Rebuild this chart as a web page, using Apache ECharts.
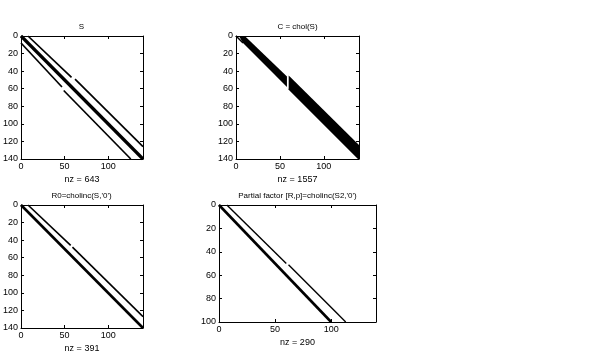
<!DOCTYPE html>
<html>
<head>
<meta charset="utf-8">
<script src="https://cdn.jsdelivr.net/npm/echarts@6/dist/echarts.min.js"></script>
<style>
  html, body { margin: 0; padding: 0; background: #fff; }
  #chart { width: 600px; height: 354px; }
</style>
</head>
<body>
<div id="chart"></div>
<script>
// sparsity patterns, as [col, row] segment end points
const sDiag = [[0, 0], [140, 140]]
const sUpperA = [[8, 0], [58, 47]]
const sUpperB = [[62, 49], [140, 126]]
const sLowerA = [[0, 8], [47, 58]]
const sLowerB = [[49, 62], [126, 140]]

const cLead = [[0, 0], [8, 8]]
const cBandA = [[4, 0], [10, 0], [58, 46], [58, 58], [8, 8], [4, 1]]
const cBandB = [[60, 45], [140, 124], [140, 140], [60, 60]]

const rDiag = [[0, 0], [140, 140]]
const rUpperA = [[8, 0], [57, 46]]
const rUpperB = [[59, 48], [140, 127]]

const pDiag = [[0, 0], [100, 100]]
const pUpperA = [[7, 0], [60, 50]]
const pUpperB = [[62, 51], [113, 100]]

const titles = ['S', 'C = chol(S)', "R0=cholinc(S,'0')", "Partial factor [R,p]=cholinc(S2,'0')"]
const nzLabels = ['nz = 643', 'nz = 1557', 'nz = 391', 'nz = 290']
const colMax = [140, 140, 140, 140]
const rowMax = [140, 140, 140, 100]

const panels = [
  { left: 20, top: 36, width: 123, height: 123 },
  { left: 236, top: 36, width: 123, height: 123 },
  { left: 20, top: 205, width: 123, height: 124 },
  { left: 219, top: 205, width: 157, height: 117 }
]

const font = 'Liberation Sans, Arial, sans-serif'
const chart = echarts.init(document.getElementById('chart'), null, { renderer: 'canvas' })

const grid = panels.map(p => ({ ...p, containLabel: false }))
const xAxis = []
const yAxis = []
panels.forEach((p, i) => {
  const base = {
    gridIndex: i,
    type: 'value',
    min: 0,
    max: colMax[i],
    interval: 50,
    splitLine: { show: false },
    axisLine: { onZero: false, lineStyle: { color: '#000', width: 1 } },
    axisTick: { inside: true, length: 3, lineStyle: { color: '#000' } }
  }
  xAxis.push({
    ...base,
    position: 'bottom',
    name: nzLabels[i],
    nameLocation: 'middle',
    nameGap: 16,
    nameTextStyle: { color: '#000', fontSize: 9, fontFamily: font },
    axisLabel: { color: '#000', fontSize: 9, fontFamily: font, margin: 3, showMaxLabel: false }
  })
  xAxis.push({ ...base, position: 'top', axisLabel: { show: false } })
  const ybase = {
    gridIndex: i,
    type: 'value',
    inverse: true,
    min: 0,
    max: rowMax[i],
    interval: 20,
    splitLine: { show: false },
    axisLine: { onZero: false, lineStyle: { color: '#000', width: 1 } },
    axisTick: { inside: true, length: 3, lineStyle: { color: '#000' } }
  }
  yAxis.push({
    ...ybase,
    position: 'left',
    axisLabel: { color: '#000', fontSize: 9, fontFamily: font, margin: 3 }
  })
  yAxis.push({ ...ybase, position: 'right', axisLabel: { show: false } })
})

function seg(i, data, width) {
  return {
    type: 'line',
    xAxisIndex: i * 2,
    yAxisIndex: i * 2,
    data,
    symbol: 'none',
    silent: true,
    animation: false,
    lineStyle: { color: '#000', width, cap: 'butt' }
  }
}

function band(i, poly) {
  return {
    type: 'custom',
    xAxisIndex: i * 2,
    yAxisIndex: i * 2,
    data: [poly[0]],
    silent: true,
    animation: false,
    renderItem: (params, api) => ({
      type: 'polygon',
      shape: { points: poly.map(pt => api.coord(pt)) },
      style: { fill: '#000' }
    })
  }
}

const series = [
  seg(0, sDiag, 3.2),
  seg(0, sUpperA, 1.7),
  seg(0, sUpperB, 1.7),
  seg(0, sLowerA, 1.7),
  seg(0, sLowerB, 1.7),
  seg(1, cLead, 1.5),
  band(1, cBandA),
  band(1, cBandB),
  seg(1, [cBandB[3], cBandB[2]], 1.5),
  seg(2, rDiag, 2.6),
  seg(2, rUpperA, 1.6),
  seg(2, rUpperB, 1.6),
  seg(3, pDiag, 2.6),
  seg(3, pUpperA, 1.4),
  seg(3, pUpperB, 1.4)
]

const title = panels.map((p, i) => ({
  text: titles[i],
  left: p.left + p.width / 2,
  top: p.top - 13,
  padding: 0,
  textAlign: 'center',
  textStyle: { color: '#000', fontSize: 8, fontWeight: 'normal', fontFamily: font }
}))

chart.setOption({
  backgroundColor: '#fff',
  animation: false,
  title,
  grid,
  xAxis,
  yAxis,
  series
})
</script>
</body>
</html>
